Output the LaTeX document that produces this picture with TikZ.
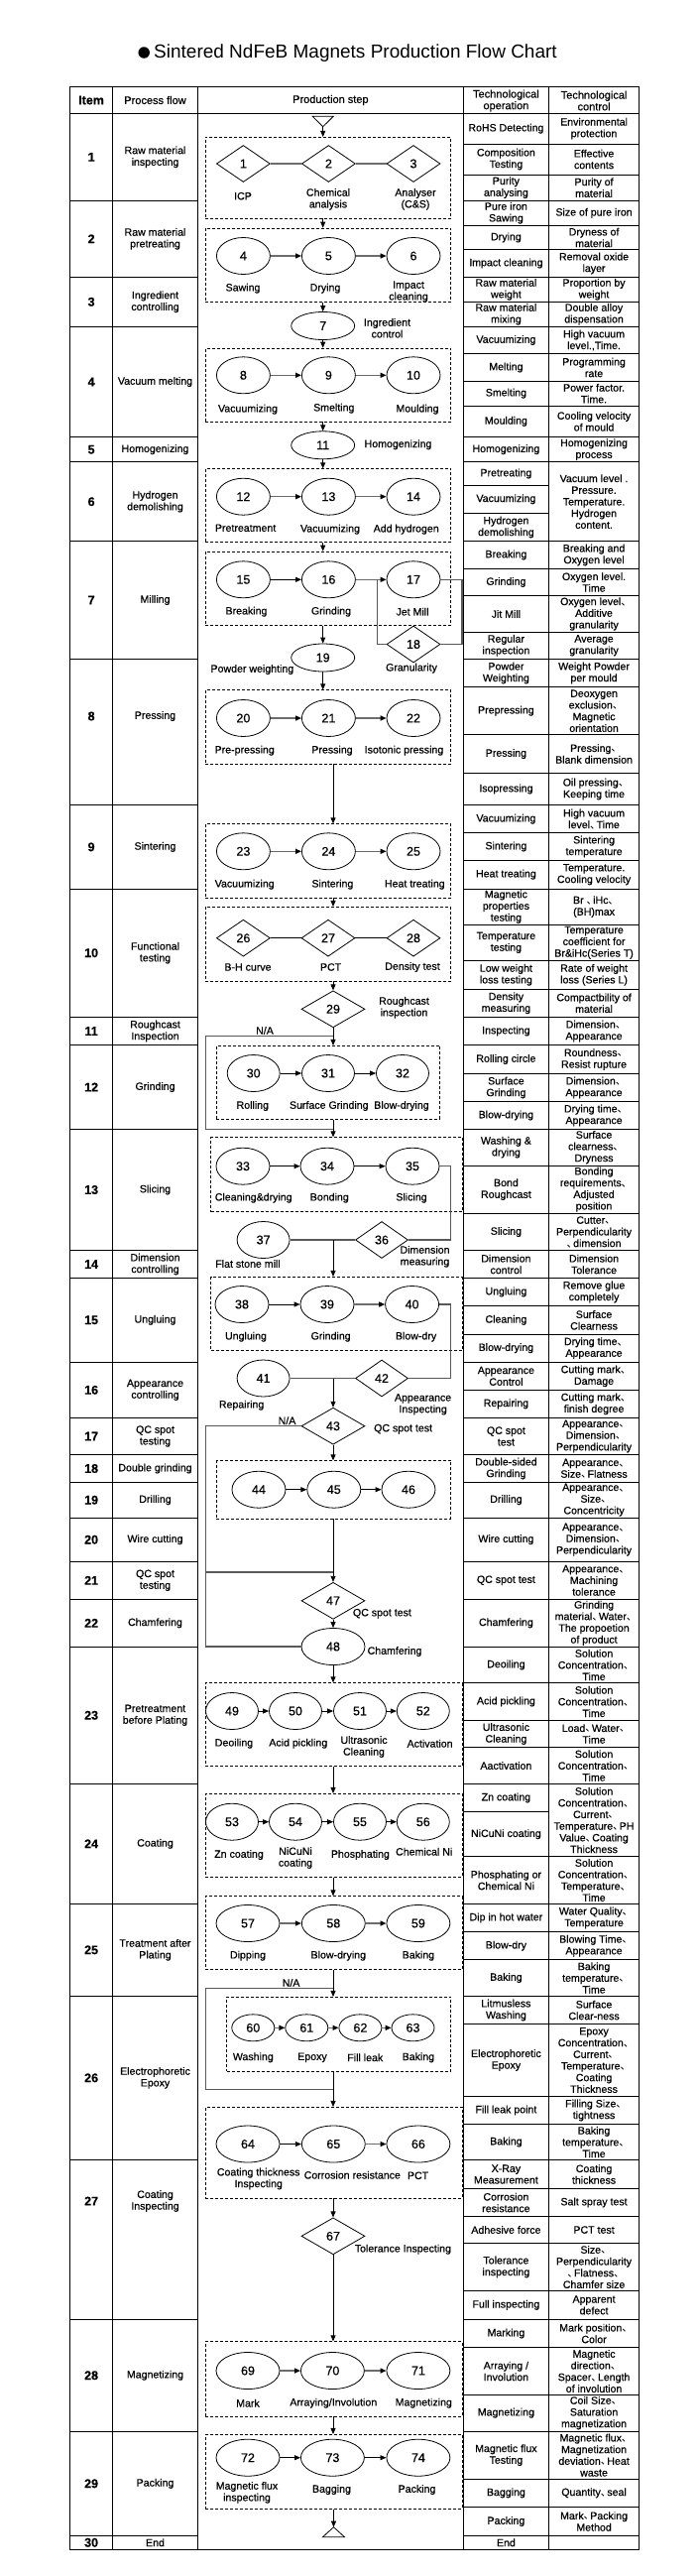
\documentclass[tikz,border=0pt]{standalone}
\usepackage{fontspec}
\setmainfont{Liberation Sans}[FakeBold=0.5]
\newfontfamily\titlefont{Liberation Sans}
\newfontfamily\cjk{Noto Sans CJK SC}
\usetikzlibrary{shapes.geometric,arrows.meta,fit}
\newcommand\dn{\makebox[0.62em][l]{\cjk 、}}
\begin{document}
\begin{tikzpicture}[x=1pt,y=-1pt,
  tline/.style={line width=0.9pt,line cap=rect},
  cell/.style={align=center,inner sep=0pt,font=\fontsize{10.6}{11.7}\selectfont},
  numcell/.style={inner sep=0pt,font=\fontsize{12.5}{14}\selectfont\bfseries},
  hdr/.style={align=center,inner sep=0pt,font=\fontsize{11}{11.7}\selectfont},
  lbl/.style={align=center,inner sep=0pt,font=\fontsize{10.6}{11.7}\selectfont},
  shp/.style={draw,line width=0.8pt,inner sep=0pt,font=\fontsize{12.5}{14}\selectfont},
  esA/.style={shp,ellipse,minimum width=54pt,minimum height=37pt},
  esB/.style={shp,ellipse,minimum width=64pt,minimum height=37pt},
  esC/.style={shp,ellipse,minimum width=64pt,minimum height=28pt},
  esD/.style={shp,ellipse,minimum width=53pt,minimum height=37pt},
  esE/.style={shp,ellipse,minimum width=43pt,minimum height=27pt},
  dA/.style={shp,diamond,minimum width=54pt,minimum height=37pt},
  dB/.style={shp,diamond,minimum width=64pt,minimum height=37pt},
  dC/.style={shp,diamond,minimum width=53pt,minimum height=37pt},
  grp/.style={draw,dash pattern=on 3pt off 2pt,line width=0.7pt,inner sep=0pt},
  flow/.style={draw=black,line width=0.8pt,-{Triangle[length=6pt,width=5pt]}},
  link/.style={draw=gray!85!black,line width=1.4pt,-{Triangle[length=6pt,width=5pt,color=black]}},
  blink/.style={draw=black,line width=0.8pt,-{Triangle[length=6pt,width=5pt]}},
  glink/.style={draw=gray!85!black,line width=1.4pt},
  back/.style={draw=gray!70!black,line width=1.1pt},
]
\useasboundingbox (0,0) rectangle (706,2597);
\fill[white] (0,0) rectangle (706,2597);

% ---------- title ----------
\node[circle,fill=black,inner sep=0pt,minimum size=11.5pt] (bullet) at (145.2,53) {};
\node[anchor=west,inner sep=0pt,font=\titlefont\fontsize{19}{22}\selectfont] (title) at (155,54) {Sintered NdFeB Magnets Production Flow Chart};

% ---------- table frame ----------
\foreach \x in {70.7,113.5,199.5,467.4,553.4,644.7} \draw[tline] (\x,87.7) -- (\x,2570);
\draw[tline] (70.7,87.7) -- (644.7,87.7);
\draw[tline] (70.7,114.3) -- (644.7,114.3);
\draw[tline] (70.7,2570) -- (644.7,2570);

\node[inner sep=0pt,font=\fontsize{12.5}{14}\selectfont\bfseries] (hItem) at (92.1,101) {Item};
\node[hdr] (hProc) at (156.5,101) {Process flow};
\node[hdr] (hStep) at (333.4,101) {Production step};
\node[hdr] (hOp) at (510.4,101.5) {Technological\\operation};
\node[hdr] (hCt) at (599.05,101.5) {Technological\\control};

% ---------- left columns ----------
\foreach \rn/\yb/\yc/\tx in {
 1/202.3/158.3/{Raw material\\inspecting},
 2/279.3/240.8/{Raw material\\pretreating},
 3/329.3/304.3/{Ingredient\\controlling},
 4/440.7/385/{Vacuum melting},
 5/465.7/453.2/{Homogenizing},
 6/545.7/505.7/{Hydrogen\\demolishing},
 7/664.3/605/{Milling},
 8/811.7/722/{Pressing},
 9/896/853.9/{Sintering},
 10/1025.3/960.7/{Functional\\testing},
 11/1053.7/1039.5/{Roughcast\\Inspection},
 12/1138.3/1096/{Grinding},
 13/1260.7/1199.5/{Slicing},
 14/1288.3/1274.5/{Dimension\\controlling},
 15/1373.3/1330.8/{Ungluing},
 16/1429.3/1401.3/{Appearance\\controlling},
 17/1466.7/1448/{QC spot\\testing},
 18/1494.3/1480.5/{Double grinding},
 19/1530/1512.2/{Drilling},
 20/1574.3/1552.2/{Wire cutting},
 21/1612.3/1593.3/{QC spot\\testing},
 22/1660.3/1636.3/{Chamfering},
 23/1798.3/1729.3/{Pretreatment\\before Plating},
 24/1919.3/1858.8/{Coating},
 25/2012.3/1965.8/{Treatment after\\Plating},
 26/2177.3/2094.8/{Electrophoretic\\Epoxy},
 27/2338.3/2219/{Coating\\Inspecting},
 28/2451/2394.7/{Magnetizing},
 29/2556.7/2503.8/{Packing},
 30/2570/2563.3/{End}}{
  \draw[tline] (70.7,\yb) -- (199.5,\yb);
  \node[numcell] (item\rn) at (92.1,\yc) {\rn};
  \node[cell] (proc\rn) at (156.5,\yc) {\tx};
}

% ---------- technological operation ----------
\foreach \ya/\yb/\tx [count=\i] in {
 114.3/145/{RoHS Detecting},
 145/176/{Composition\\Testing},
 176/202.3/{Purity\\analysing},
 202.3/227.3/{Pure iron\\Sawing},
 227.3/251.7/{Drying},
 251.7/279.3/{Impact cleaning},
 279.3/304.3/{Raw material\\weight},
 304.3/329.3/{Raw material\\mixing},
 329.3/356.7/{Vacuumizing},
 356.7/384.3/{Melting},
 384.3/409/{Smelting},
 409/440.7/{Moulding},
 440.7/465.7/{Homogenizing},
 465.7/489.3/{Pretreating},
 489.3/517.3/{Vacuumizing},
 517.3/545.7/{Hydrogen\\demolishing},
 545.7/573.3/{Breaking},
 573.3/600.7/{Grinding},
 600.7/637.3/{Jit Mill},
 637.3/664.3/{Regular\\inspection},
 664.3/692.7/{Powder\\Weighting},
 692.7/740.7/{Prepressing},
 740.7/779.3/{Pressing},
 779.3/811.7/{Isopressing},
 811.7/839.7/{Vacuumizing},
 839.7/867.3/{Sintering},
 867.3/896/{Heat treating},
 896/932.3/{Magnetic\\properties\\testing},
 932.3/968.3/{Temperature\\testing},
 968.3/997.3/{Low weight\\loss testing},
 997.3/1025.3/{Density\\measuring},
 1025.3/1053.7/{Inspecting},
 1053.7/1082.3/{Rolling circle},
 1082.3/1110.7/{Surface\\Grinding},
 1110.7/1138.3/{Blow-drying},
 1138.3/1175/{Washing \&\\drying},
 1175/1223.3/{Bond\\Roughcast},
 1223.3/1260.7/{Slicing},
 1260.7/1288.3/{Dimension\\control},
 1288.3/1316.7/{Ungluing},
 1316.7/1345/{Cleaning},
 1345/1373.3/{Blow-drying},
 1373.3/1401.3/{Appearance\\Control},
 1401.3/1429.3/{Repairing},
 1429.3/1466.7/{QC spot\\test},
 1466.7/1494.3/{Double-sided\\Grinding},
 1494.3/1530/{Drilling},
 1530/1574.3/{Wire cutting},
 1574.3/1612.3/{QC spot test},
 1612.3/1660.3/{Chamfering},
 1660.3/1696.7/{Deoiling},
 1696.7/1734.3/{Acid pickling},
 1734.3/1761.7/{Ultrasonic\\Cleaning},
 1761.7/1798.3/{Aactivation},
 1798.3/1826.7/{Zn coating},
 1826.7/1871.7/{NiCuNi coating},
 1871.7/1919.3/{Phosphating or\\Chemical Ni},
 1919.3/1947.7/{Dip in hot water},
 1947.7/1975.7/{Blow-dry},
 1975.7/2012.3/{Baking},
 2012.3/2040.7/{Litmusless\\Washing},
 2040.7/2113.3/{Electrophoretic\\Epoxy},
 2113.3/2141.7/{Fill leak point},
 2141.7/2177.3/{Baking},
 2177.3/2206.7/{X-Ray\\Measurement},
 2206.7/2234.3/{Corrosion\\resistance},
 2234.3/2261.7/{Adhesive force},
 2261.7/2309.3/{Tolerance\\inspecting},
 2309.3/2338.3/{Full inspecting},
 2338.3/2366.7/{Marking},
 2366.7/2414.3/{Arraying /\\Involution},
 2414.3/2451/{Magnetizing},
 2451/2499.3/{Magnetic flux\\Testing},
 2499.3/2527.3/{Bagging},
 2527.3/2556.7/{Packing},
 2556.7/2570/{End}}{
  \draw[tline] (467.4,\yb) -- (553.4,\yb);
  \node[cell] (op\i) at (510.4,{(\ya+\yb)/2}) {\tx};
}

% ---------- technological control ----------
\foreach \ya/\yb/\tx [count=\i] in {
 114.3/145/{Environmental\\protection},
 145/176/{Effective\\contents},
 176/202.3/{Purity of\\material},
 202.3/227.3/{Size of pure iron},
 227.3/251.7/{Dryness of\\material},
 251.7/279.3/{Removal oxide\\layer},
 279.3/304.3/{Proportion by\\weight},
 304.3/329.3/{Double alloy\\dispensation},
 329.3/356.7/{High vacuum\\level.,Time.},
 356.7/384.3/{Programming\\rate},
 384.3/409/{Power factor.\\Time.},
 409/440.7/{Cooling velocity\\of mould},
 440.7/465.7/{Homogenizing\\process},
 465.7/545.7/{Vacuum level .\\Pressure.\\Temperature.\\Hydrogen\\content.},
 545.7/573.3/{Breaking and\\Oxygen level},
 573.3/600.7/{Oxygen level.\\Time},
 600.7/637.3/{Oxygen level\dn\\Additive\\granularity},
 637.3/664.3/{Average\\granularity},
 664.3/692.7/{Weight Powder\\per mould},
 692.7/740.7/{Deoxygen\\exclusion\dn\\Magnetic\\orientation},
 740.7/779.3/{Pressing\dn\\Blank dimension},
 779.3/811.7/{Oil pressing\dn\\Keeping time},
 811.7/839.7/{High vacuum\\level\dn Time},
 839.7/867.3/{Sintering\\temperature},
 867.3/896/{Temperature.\\Cooling velocity},
 896/932.3/{Br \dn iHc\dn\\(BH)max},
 932.3/968.3/{Temperature\\coefficient for\\Br\&iHc(Series T)},
 968.3/997.3/{Rate of weight\\loss (Series L)},
 997.3/1025.3/{Compactbility of\\material},
 1025.3/1053.7/{Dimension\dn\\Appearance},
 1053.7/1082.3/{Roundness\dn\\Resist rupture},
 1082.3/1110.7/{Dimension\dn\\Appearance},
 1110.7/1138.3/{Drying time\dn\\Appearance},
 1138.3/1175/{Surface\\clearness\dn\\Dryness},
 1175/1223.3/{Bonding\\requirements\dn\\Adjusted\\position},
 1223.3/1260.7/{Cutter\dn\\Perpendicularity\\\dn dimension},
 1260.7/1288.3/{Dimension\\Tolerance},
 1288.3/1316.7/{Remove glue\\completely},
 1316.7/1345/{Surface\\Clearness},
 1345/1373.3/{Drying time\dn\\Appearance},
 1373.3/1401.3/{Cutting mark\dn\\Damage},
 1401.3/1429.3/{Cutting mark\dn\\finish degree},
 1429.3/1466.7/{Appearance\dn\\Dimension\dn\\Perpendicularity},
 1466.7/1494.3/{Appearance\dn\\Size\dn Flatness},
 1494.3/1530/{Appearance\dn\\Size\dn\\Concentricity},
 1530/1574.3/{Appearance\dn\\Dimension\dn\\Perpendicularity},
 1574.3/1612.3/{Appearance\dn\\Machining\\tolerance},
 1612.3/1660.3/{Grinding\\material\dn Water\dn\\The propoetion\\of product},
 1660.3/1696.7/{Solution\\Concentration\dn\\Time},
 1696.7/1734.3/{Solution\\Concentration\dn\\Time},
 1734.3/1761.7/{Load\dn Water\dn\\Time},
 1761.7/1798.3/{Solution\\Concentration\dn\\Time},
 1798.3/1871.7/{Solution\\Concentration\dn\\Current\dn\\Temperature\dn PH\\Value\dn Coating\\Thickness},
 1871.7/1919.3/{Solution\\Concentration\dn\\Temperature\dn\\Time},
 1919.3/1947.7/{Water Quality\dn\\Temperature},
 1947.7/1975.7/{Blowing Time\dn\\Appearance},
 1975.7/2012.3/{Baking\\temperature\dn\\Time},
 2012.3/2040.7/{Surface\\Clear-ness},
 2040.7/2113.3/{Epoxy\\Concentration\dn\\Current\dn\\Temperature\dn\\Coating\\Thickness},
 2113.3/2141.7/{Filling Size\dn\\tightness},
 2141.7/2177.3/{Baking\\temperature\dn\\Time},
 2177.3/2206.7/{Coating\\thickness},
 2206.7/2234.3/{Salt spray test},
 2234.3/2261.7/{PCT test},
 2261.7/2309.3/{Size\dn\\Perpendicularity\\\dn Flatness\dn\\Chamfer size},
 2309.3/2338.3/{Apparent\\defect},
 2338.3/2366.7/{Mark position\dn\\Color},
 2366.7/2414.3/{Magnetic\\direction\dn\\Spacer\dn Length\\of involution},
 2414.3/2451/{Coil Size\dn\\Saturation\\magnetization},
 2451/2499.3/{Magnetic flux\dn\\Magnetization\\deviation\dn Heat\\waste},
 2499.3/2527.3/{Quantity\dn seal},
 2527.3/2556.7/{Mark\dn Packing\\Method},
 2556.7/2570/{}}{
  \draw[tline] (553.4,\yb) -- (644.7,\yb);
  \node[cell] (ct\i) at (599.05,{(\ya+\yb)/2}) {\tx};
}

% ---------- production step: groups ----------
\node[grp,fit={(207.1,138.3) (454.8,220)}] (g1) {};
\node[grp,fit={(207.1,230) (454.8,304.3)}] (g2) {};
\node[grp,fit={(207.1,351) (454.8,425)}] (g3) {};
\node[grp,fit={(207.1,472.7) (454.8,546.7)}] (g4) {};
\node[grp,fit={(207.1,556) (454.8,630.3)}] (g5) {};
\node[grp,fit={(207.1,695.7) (454.8,770)}] (g6) {};
\node[grp,fit={(207.1,830.7) (454.8,905)}] (g7) {};
\node[grp,fit={(207.1,914.3) (454.8,989)}] (g8) {};
\node[grp,fit={(218.4,1054.3) (443.5,1128.3)}] (g9) {};
\node[grp,fit={(212.5,1146.7) (466,1221.7)}] (g10) {};
\node[grp,fit={(212.5,1287.3) (466,1361)}] (g11) {};
\node[grp,fit={(218.4,1472.7) (454.8,1531)}] (g12) {};
\node[grp,fit={(207.1,1696.7) (466,1780.7)}] (g13) {};
\node[grp,fit={(207.1,1808.3) (466,1892.3)}] (g14) {};
\node[grp,fit={(207.1,1911.7) (466,1985.7)}] (g15) {};
\node[grp,fit={(228.7,2013.3) (454.8,2088.3)}] (g16) {};
\node[grp,fit={(207.1,2124.3) (466,2216)}] (g17) {};
\node[grp,fit={(207.1,2360.7) (466,2436)}] (g18) {};
\node[grp,fit={(207.1,2454.3) (466,2529.3)}] (g19) {};

% ---------- shapes ----------
\node[dA] (d1) at (245.4,165) {1};
\node[dA] (d2) at (331.4,165) {2};
\node[dA] (d3) at (417,165) {3};
\node[esA] (e4) at (245.4,258) {4};
\node[esA] (e5) at (331.4,258) {5};
\node[esA] (e6) at (417,258) {6};
\node[esC] (e7) at (325.7,328.5) {7};
\node[esA] (e8) at (245.4,378.3) {8};
\node[esA] (e9) at (331.4,378.3) {9};
\node[esA] (e10) at (417,378.3) {10};
\node[esC] (e11) at (325.7,448.8) {11};
\node[esA] (e12) at (245.4,500.7) {12};
\node[esA] (e13) at (331.4,500.7) {13};
\node[esA] (e14) at (417,500.7) {14};
\node[esA] (e15) at (245.4,584.3) {15};
\node[esA] (e16) at (331.4,584.3) {16};
\node[esA] (e17) at (417,584.3) {17};
\node[dA] (d18) at (417,649.5) {18};
\node[esC] (e19) at (325.7,663) {19};
\node[esA] (e20) at (245.4,724) {20};
\node[esA] (e21) at (331.4,724) {21};
\node[esA] (e22) at (417,724) {22};
\node[esA] (e23) at (245.4,858.3) {23};
\node[esA] (e24) at (331.4,858.3) {24};
\node[esA] (e25) at (417,858.3) {25};
\node[dA] (d26) at (245.4,945.7) {26};
\node[dA] (d27) at (331,945.7) {27};
\node[dA] (d28) at (417,945.7) {28};
\node[dB] (d29) at (336,1017.3) {29};
\node[esD] (e30) at (255.7,1082) {30};
\node[esD] (e31) at (331,1082) {31};
\node[esD] (e32) at (406,1082) {32};
\node[esA] (e33) at (245,1175.7) {33};
\node[esA] (e34) at (330,1175.7) {34};
\node[esA] (e35) at (416,1175.7) {35};
\node[dC] (d36) at (385,1250) {36};
\node[esD] (e37) at (265.6,1250) {37};
\node[esA] (e38) at (244,1315) {38};
\node[esA] (e39) at (330,1315) {39};
\node[esA] (e40) at (415.6,1315) {40};
\node[esD] (e41) at (265.6,1389.5) {41};
\node[dC] (d42) at (385,1389.5) {42};
\node[dB] (d43) at (336,1437.7) {43};
\node[esA] (e44) at (261,1501.7) {44};
\node[esA] (e45) at (336.8,1501.7) {45};
\node[esA] (e46) at (412,1501.7) {46};
\node[dB] (d47) at (336,1613.8) {47};
\node[esB] (e48) at (336,1660) {48};
\node[esD] (e49) at (234,1725) {49};
\node[esD] (e50) at (298,1725) {50};
\node[esD] (e51) at (363,1725) {51};
\node[esD] (e52) at (426.8,1725) {52};
\node[esD] (e53) at (234,1836.7) {53};
\node[esD] (e54) at (298,1836.7) {54};
\node[esD] (e55) at (363,1836.7) {55};
\node[esD] (e56) at (426.8,1836.7) {56};
\node[esB] (e57) at (250,1939) {57};
\node[esB] (e58) at (336.3,1939) {58};
\node[esB] (e59) at (421.9,1939) {59};
\node[esE] (e60) at (255.3,2044.3) {60};
\node[esE] (e61) at (309.3,2044.3) {61};
\node[esE] (e62) at (363.4,2044.3) {62};
\node[esE] (e63) at (416.5,2044.3) {63};
\node[esB] (e64) at (250,2161.5) {64};
\node[esB] (e65) at (336.3,2161.5) {65};
\node[esB] (e66) at (421.9,2161.5) {66};
\node[dB] (d67) at (336,2254.3) {67};
\node[esB] (e69) at (250,2390) {69};
\node[esB] (e70) at (335.4,2390) {70};
\node[esB] (e71) at (421.9,2390) {71};
\node[esB] (e72) at (250,2477.7) {72};
\node[esB] (e73) at (335.4,2477.7) {73};
\node[esB] (e74) at (421.9,2477.7) {74};

% ---------- labels ----------
\node[lbl] (l1) at (245,197.7) {ICP};
\node[lbl] (l2) at (331,200.8) {Chemical\\analysis};
\node[lbl] (l3) at (419,200.8) {Analyser\\(C\&S)};
\node[lbl] (l4) at (245,290.7) {Sawing};
\node[lbl] (l5) at (328,290.7) {Drying};
\node[lbl] (l6) at (412,294) {Impact\\cleaning};
\node[lbl] (l7) at (390.5,330.8) {Ingredient\\control};
\node[lbl] (l8) at (250,412.7) {Vacuumizing};
\node[lbl] (l9) at (336.8,411.7) {Smelting};
\node[lbl] (l10) at (421,412.7) {Moulding};
\node[lbl] (l11) at (401.5,448.3) {Homogenizing};
\node[lbl] (l12) at (247.6,532.3) {Pretreatment};
\node[lbl] (l13) at (333,533.7) {Vacuumizing};
\node[lbl] (l14) at (409.7,533.7) {Add hydrogen};
\node[lbl] (l15) at (248.5,616.7) {Breaking};
\node[lbl] (l16) at (334,616.7) {Grinding};
\node[lbl] (l17) at (416,616.7) {Jet Mill};
\node[lbl] (l18) at (415,673.7) {Granularity};
\node[lbl] (l19) at (254.4,675) {Powder weighting};
\node[lbl] (l20) at (246.7,756.7) {Pre-pressing};
\node[lbl] (l21) at (335,756.7) {Pressing};
\node[lbl] (l22) at (407.5,756.7) {Isotonic pressing};
\node[lbl] (l23) at (246.7,891.7) {Vacuumizing};
\node[lbl] (l24) at (335.4,891.7) {Sintering};
\node[lbl] (l25) at (418.3,891.7) {Heat treating};
\node[lbl] (l26) at (250,975) {B-H curve};
\node[lbl] (l27) at (333.6,975) {PCT};
\node[lbl] (l28) at (416,975) {Density test};
\node[lbl] (l29) at (407.5,1015.8) {Roughcast\\inspection};
\node[lbl,anchor=south] (na1t) at (267,1043) {N/A};
\node[lbl] (l30) at (254.8,1115) {Rolling};
\node[lbl] (l31) at (331.8,1115) {Surface Grinding};
\node[lbl] (l32) at (405,1115) {Blow-drying};
\node[lbl] (l33) at (255.7,1207.7) {Cleaning\&drying};
\node[lbl] (l34) at (332.3,1207.7) {Bonding};
\node[lbl] (l35) at (415,1207.7) {Slicing};
\node[lbl] (l36) at (428.5,1266.8) {Dimension\\measuring};
\node[lbl] (l37) at (250,1274) {Flat stone mill};
\node[lbl] (l38) at (248,1347.7) {Ungluing};
\node[lbl] (l39) at (333.6,1347.7) {Grinding};
\node[lbl] (l40) at (419.6,1347.7) {Blow-dry};
\node[lbl] (l41) at (243.6,1416.7) {Repairing};
\node[lbl] (l42) at (426.6,1415.8) {Appearance\\Inspecting};
\node[lbl] (l43) at (406.6,1440.7) {QC spot test};
\node[lbl,anchor=south] (na2t) at (289.5,1436.3) {N/A};
\node[lbl] (l47) at (385.4,1626.7) {QC spot test};
\node[lbl] (l48) at (398,1665) {Chamfering};
\node[lbl] (l49) at (236,1757.7) {Deoiling};
\node[lbl] (l50) at (300.8,1757.7) {Acid pickling};
\node[lbl] (l51) at (367,1761) {Ultrasonic\\Cleaning};
\node[lbl] (l52) at (433.6,1757.7) {Activation};
\node[lbl] (l53) at (241,1870) {Zn coating};
\node[lbl] (l54) at (298,1873) {NiCuNi\\coating};
\node[lbl] (l55) at (363.4,1870) {Phosphating};
\node[lbl] (l56) at (427.7,1866.7) {Chemical Ni};
\node[lbl] (l57) at (250,1971.7) {Dipping};
\node[lbl] (l58) at (341.3,1971.7) {Blow-drying};
\node[lbl] (l59) at (421.9,1971.7) {Baking};
\node[lbl,anchor=south] (na3t) at (293.6,2003) {N/A};
\node[lbl] (l60) at (255.3,2074.3) {Washing};
\node[lbl] (l61) at (315,2074.3) {Epoxy};
\node[lbl] (l62) at (368.3,2074.3) {Fill leak};
\node[lbl] (l63) at (421.9,2074.3) {Baking};
\node[lbl] (l64) at (260.7,2196.5) {Coating thickness\\Inspecting};
\node[lbl] (l65) at (355.3,2192.7) {Corrosion resistance};
\node[lbl] (l66) at (421.6,2193.3) {PCT};
\node[lbl] (l67) at (406.4,2267.7) {Tolerance Inspecting};
\node[lbl] (l69) at (250,2422.7) {Mark};
\node[lbl] (l70) at (336.3,2422.7) {Arraying/Involution};
\node[lbl] (l71) at (427.3,2422.7) {Magnetizing};
\node[lbl] (l72) at (249,2512.8) {Magnetic flux\\inspecting};
\node[lbl] (l73) at (334.5,2510) {Bagging};
\node[lbl] (l74) at (420.5,2510) {Packing};

% ---------- intra-group links ----------
\draw[glink] (d1.east) -- (d2.west);
\draw[glink] (d2.east) -- (d3.west);
\draw[link] (e4.east) -- (e5.west);
\draw[link] (e5.east) -- (e6.west);
\draw[link] (e8.east) -- (e9.west);
\draw[link] (e9.east) -- (e10.west);
\draw[link] (e12.east) -- (e13.west);
\draw[link] (e13.east) -- (e14.west);
\draw[blink] (e15.east) -- (e16.west);
\draw[link] (e16.east) -- (e17.west);
\draw[link] (e20.east) -- (e21.west);
\draw[link] (e21.east) -- (e22.west);
\draw[link] (e23.east) -- (e24.west);
\draw[link] (e24.east) -- (e25.west);
\draw[line width=0.8pt] (d26.east) -- (d27.west);
\draw[line width=0.8pt] (d27.east) -- (d28.west);
\draw[blink] (e30.east) -- (e31.west);
\draw[blink] (e31.east) -- (e32.west);
\draw[blink] (e33.east) -- (e34.west);
\draw[blink] (e34.east) -- (e35.west);
\draw[blink] (e38.east) -- (e39.west);
\draw[link] (e39.east) -- (e40.west);
\draw[blink] (e44.east) -- (e45.west);
\draw[blink] (e45.east) -- (e46.west);
\draw[blink] (e49.east) -- (e50.west);
\draw[blink] (e50.east) -- (e51.west);
\draw[blink] (e51.east) -- (e52.west);
\draw[blink] (e53.east) -- (e54.west);
\draw[blink] (e54.east) -- (e55.west);
\draw[blink] (e55.east) -- (e56.west);
\draw[link] (e57.east) -- (e58.west);
\draw[link] (e58.east) -- (e59.west);
\draw[link] (e60.east) -- (e61.west);
\draw[link] (e61.east) -- (e62.west);
\draw[link] (e62.east) -- (e63.west);
\draw[blink] (e64.east) -- (e65.west);
\draw[link] (e65.east) -- (e66.west);
\draw[link] (e69.east) -- (e70.west);
\draw[link] (e70.east) -- (e71.west);
\draw[blink] (e72.east) -- (e73.west);
\draw[blink] (e73.east) -- (e74.west);

% ---------- loops ----------
\coordinate (k17) at (466,584.3);
\coordinate (j18) at (380.5,584.3);
\draw[back] (e17.east) -- (k17) |- (d18.east);
\draw[back] (d18.west) -| (j18);
\coordinate (k35) at (454.8,1175.7);
\draw[back] (e35.east) -- (k35) |- (d36.east);
\draw[back] (e37.east) -- (d36.west);
\coordinate (k40) at (454.8,1315);
\draw[back] (e40.east) -- (k40) |- (d42.east);
\draw[back] (e41.east) -- (d42.west);

% ---------- main flow ----------
\coordinate (s0) at (325.7,127.7);
\draw[line width=0.8pt] (315.2,117.3) -- (336.2,117.3) -- (s0) -- cycle;
\draw[flow] (s0) -- (s0 |- g1.north);
\draw[flow] (g1.south -| s0) -- (g2.north -| s0);
\draw[flow] (g2.south -| s0) -- (e7.north);
\draw[flow] (e7.south) -- (g3.north -| e7);
\draw[flow] (g3.south -| s0) -- (e11.north);
\draw[flow] (e11.south) -- (g4.north -| e11);
\draw[flow] (g4.south -| s0) -- (g5.north -| s0);
\draw[flow] (g5.south -| s0) -- (e19.north);
\draw[flow] (e19.south) -- (g6.north -| e19);
\draw[flow] (g6.south -| d29) -- (g7.north -| d29);
\draw[flow] (g7.south -| d29) -- (g8.north -| d29);
\draw[flow] (g8.south -| d29) -- (d29.north);
\draw[flow] (d29.south) -- (g9.north -| d29);
\coordinate (na1) at (336,1044.3);
\coordinate (na1l) at (207.1,1044.3);
\coordinate (na1d) at (207.1,1138.3);
\coordinate (na1r) at (336,1138.3);
\draw[back] (na1) -- (na1l) -- (na1d) -- (na1r);
\draw[flow] (g9.south -| d29) -- (g10.north -| d29);
\coordinate (j36) at (336,1250);
\draw[flow] (j36) -- (g11.north -| j36);
\coordinate (j42) at (336,1389.5);
\draw[flow] (j42) -- (d43.north);
\draw[flow] (d43.south) -- (g12.north -| d43);
\coordinate (na2l) at (207.1,1437.7);
\coordinate (na2m) at (207.1,1585);
\coordinate (na2r) at (336,1585);
\coordinate (na2b) at (207.1,1660);
\draw[back] (d43.west) -- (na2l) -- (na2b) -- (e48.west);
\draw[back] (na2m) -- (na2r);
\draw[flow] (g12.south -| d43) -- (d47.north);
\draw[flow] (d47.south) -- (e48.north);
\draw[flow] (e48.south) -- (g13.north -| e48);
\draw[flow] (g13.south -| e48) -- (g14.north -| e48);
\draw[flow] (g14.south -| e48) -- (g15.north -| e48);
\draw[flow] (g15.south -| e48) -- (g16.north -| e48);
\coordinate (na3) at (336,2004.3);
\coordinate (na3l) at (207.1,2004.3);
\coordinate (na3d) at (207.1,2106.7);
\coordinate (na3r) at (336,2106.7);
\draw[back] (na3) -- (na3l) -- (na3d) -- (na3r);
\draw[flow] (g16.south -| e48) -- (g17.north -| e48);
\draw[flow] (g17.south -| e48) -- (d67.north);
\draw[flow] (d67.south) -- (g18.north -| d67);
\draw[flow] (g18.south -| d67) -- (g19.north -| d67);
\coordinate (endt) at (336.5,2547.7);
\draw[flow] (g19.south -| endt) -- (endt);
\draw[line width=0.8pt] (endt) -- (325.5,2557.7) -- (347.5,2557.7) -- cycle;
\end{tikzpicture}
\end{document}
